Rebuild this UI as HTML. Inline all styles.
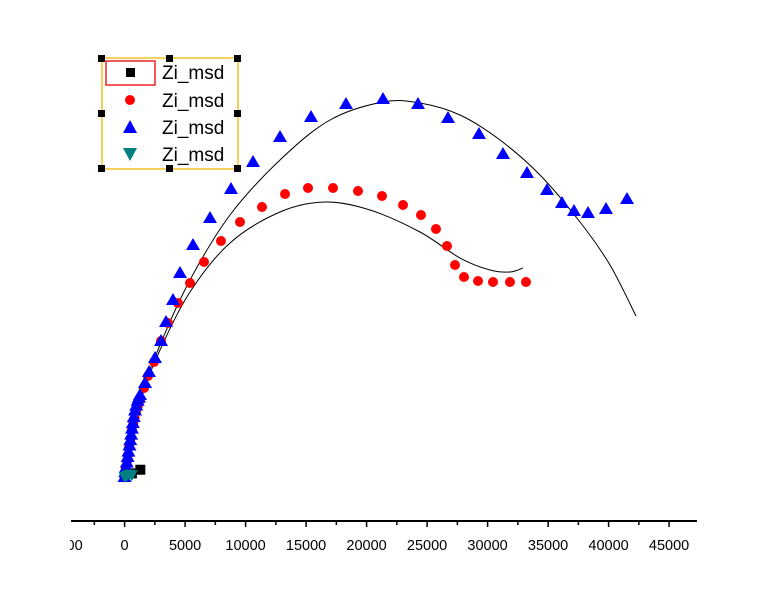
<!DOCTYPE html>
<html><head><meta charset="utf-8"><style>
body{margin:0;background:#fff}
svg{display:block;font-family:"Liberation Sans",sans-serif}
</style></head><body>
<svg id="chart" width="768" height="614" viewBox="0 0 768 614">
<defs><clipPath id="ax"><rect x="70" y="525" width="627" height="30"/></clipPath></defs>
<g id="fits"></g>
<g id="marks"></g>
<g id="xaxis"></g>
<g>
<rect x="102" y="58" width="136" height="111" fill="none" stroke="#f5b800" stroke-width="1.3"/>
<rect x="106" y="61" width="49" height="24" fill="none" stroke="#e00" stroke-width="1.3"/>
<g fill="#000">
<rect x="98" y="55" width="7" height="7"/><rect x="166" y="55" width="7" height="7"/><rect x="234" y="55" width="7" height="7"/>
<rect x="98" y="110" width="7" height="7"/><rect x="234" y="110" width="7" height="7"/>
<rect x="98" y="165" width="7" height="7"/><rect x="166" y="165" width="7" height="7"/><rect x="234" y="165" width="7" height="7"/>
</g>
<rect x="126" y="68" width="9" height="9" fill="#000"/>
<circle cx="130" cy="100" r="5" fill="#f00"/>
<path d="M130 120 L137 133 L123 133Z" fill="#00f"/>
<path d="M123 148 L137 148 L130 161Z" fill="#008080"/>
<g font-size="19" fill="#000">
<text x="162" y="79">Zi_msd</text>
<text x="162" y="107">Zi_msd</text>
<text x="162" y="134">Zi_msd</text>
<text x="162" y="161">Zi_msd</text>
</g>
</g>
</svg>
<script>
const blueX=[0,60,120,180,250,320,400,470,540,610,680,760,860,960,1080,1180,1273,1686,2017,2512,3008,3421,4000,4579,5653,7058,8793,10612,12843,15405,18297,21355,24248,26727,29289,31273,33256,34909,36149,37140,38297,39785,41521];
const blueY=[0,400,800,1200,1650,2100,2600,3050,3500,4000,4450,4950,5500,5900,6300,6550,6777,7769,8678,9835,11240,12810,14628,16860,19174,21405,23802,26033,28099,29752,30826,31240,30826,29669,28347,26694,25124,23719,22645,21983,21818,22149,22975];
const redX=[0,100,200,280,380,500,610,720,830,940,1100,1273,1603,1934,2430,3008,3587,4413,5405,6562,7967,9537,11355,13256,15157,17223,19289,21273,23008,24496,25735,26645,27306,28050,29207,30446,31851,33174];
const redY=[0,700,1300,1818,2500,3200,3884,4400,4900,5372,5900,6363,7355,8347,9504,11240,12727,14380,16033,17768,19504,21074,22314,23388,23884,23884,23636,23223,22479,21653,20496,19091,17521,16529,16198,16116,16116,16116];
const sqX=[0,600,1300];const sqY=[0,300,600];
const tealX=[0,200,400,600];const tealY=[0,100,200,150];
const blueFitX=[0,1273,2926,5405,8710,12843,16975,21355,24413,27719,31025,34330,37636,40116,42264];
const blueFitY=[0,6363,10909,16281,21653,26198,29504,30992,30909,29917,27851,24959,21074,17521,13306];
const redFitX=[0,1273,2926,5405,8710,12843,16562,20281,24413,27719,30198,31851,32926];
const redFitY=[0,6115,10496,15289,19339,21901,22727,22066,20248,18099,17107,16942,17273];
const tickVals=[-5000,0,5000,10000,15000,20000,25000,30000,35000,40000,45000];
const tickLabels=["-5000","0","5000","10000","15000","20000","25000","30000","35000","40000","45000"];
const K=60.5/5000;
const sx=v=>124.6+v*K, sy=v=>477-v*K;
const NS="http://www.w3.org/2000/svg";
function mk(t,p,a){const e=document.createElementNS(NS,t);for(const k in a)e.setAttribute(k,a[k]);p.appendChild(e);return e;}
const fits=document.getElementById('fits'),marks=document.getElementById('marks'),xa=document.getElementById('xaxis');
function spline(X,Y){const P=X.map((x,i)=>[sx(x),sy(Y[i])]);let d='M'+P[0];for(let i=0;i<P.length-1;i++){const p0=P[i-1]||P[i],p1=P[i],p2=P[i+1],p3=P[i+2]||p2;d+=' C'+(p1[0]+(p2[0]-p0[0])/6)+','+(p1[1]+(p2[1]-p0[1])/6)+' '+(p2[0]-(p3[0]-p1[0])/6)+','+(p2[1]-(p3[1]-p1[1])/6)+' '+p2[0]+','+p2[1];}return d;}
let f=mk('path',fits,{d:spline(blueFitX,blueFitY),fill:'none',stroke:'#000','stroke-width':1});


f=mk('path',fits,{d:spline(redFitX,redFitY),fill:'none',stroke:'#000','stroke-width':1});


sqX.forEach((x,i)=>{const e=mk('rect',marks,{x:sx(x)-5,y:sy(sqY[i])-5,width:10,height:10,fill:'#000'});

});
redX.forEach((x,i)=>{const e=mk('circle',marks,{cx:sx(x),cy:sy(redY[i]),r:5,fill:'#f00'});

});
blueX.forEach((x,i)=>{const cx=sx(x),cy=sy(blueY[i]);const e=mk('path',marks,{d:`M${cx} ${cy-7}L${cx+7} ${cy+5}L${cx-7} ${cy+5}Z`,fill:'#00f'});

});
tealX.forEach((x,i)=>{const cx=sx(x),cy=sy(tealY[i]);const e=mk('path',marks,{d:`M${cx-6} ${cy-5}L${cx+6} ${cy-5}L${cx} ${cy+6}Z`,fill:'#008080'});

});
const AY=521;
let l=mk('line',xa,{x1:71,x2:697,y1:AY,y2:AY,stroke:'#000','stroke-width':2});


const cl=mk('g',xa,{'clip-path':'url(#ax)'});
tickVals.forEach((v,i)=>{const x=sx(v);
if(x>=71&&x<=697){const t=mk('line',xa,{x1:x,x2:x,y1:AY,y2:AY+6,stroke:'#000','stroke-width':1.5});

}
const m=sx(v+2500);if(m>=71&&m<697){const mt=mk('line',xa,{x1:m,x2:m,y1:AY,y2:AY+4,stroke:'#000','stroke-width':1.5});

}
const tx=mk('text',cl,{x:x,y:AY+29,'text-anchor':'middle','font-size':14.5,fill:'#000'});tx.textContent=tickLabels[i];

});
</script>
</body></html>
